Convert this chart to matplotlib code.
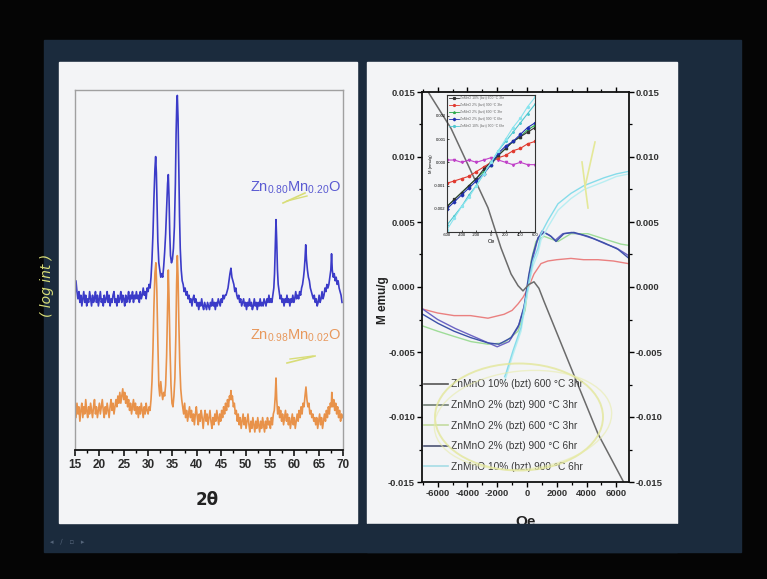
import matplotlib
matplotlib.use('Agg')
import matplotlib.pyplot as plt
from matplotlib.lines import Line2D
from matplotlib.patches import Rectangle, Ellipse
from matplotlib.ticker import MultipleLocator

plt.rcParams['axes.unicode_minus'] = False
plt.rcParams['font.family'] = ['Liberation Sans', 'DejaVu Sans']
plt.rcParams['mathtext.fontset'] = 'custom'
plt.rcParams['mathtext.rm'] = 'Liberation Sans'
plt.rcParams['mathtext.it'] = 'Liberation Sans'

# ---------------- XRD data (left panel) ----------------
xrd_ticks = [15, 20, 25, 30, 35, 40, 45, 50, 55, 60, 65, 70]
label_high = r'Zn$_{0.80}$Mn$_{0.20}$O'
label_low = r'Zn$_{0.98}$Mn$_{0.02}$O'

blue_pts = [(15.0,43),(15.2,47),(15.4,44),(15.6,42),(15.8,44),(16.0,41),(16.2,43),(16.4,40),(16.6,42),(16.8,44),(17.0,41),(17.2,43),(17.4,40),(17.6,42),(17.8,41),(18.0,44),(18.2,42),(18.4,40),(18.6,43),(18.8,41),(19.0,42),(19.2,44),(19.4,41),(19.6,43),(19.8,40),(20.0,42),(20.2,44),(20.4,41),(20.6,42),(20.8,40),(21.0,43),(21.2,41),(21.4,42),(21.6,44),(21.8,41),(22.0,43),(22.2,40),(22.4,42),(22.6,41),(22.8,43),(23.0,44),(23.2,41),(23.4,42),(23.6,40),(23.8,43),(24.0,41),(24.2,42),(24.4,44),(24.6,41),(24.8,43),(25.0,42),(25.2,40),(25.4,43),(25.6,41),(25.8,42),(26.0,44),(26.2,41),(26.4,43),(26.6,42),(26.8,44),(27.0,41),(27.2,43),(27.4,42),(27.6,44),(27.8,42),(28.0,43),(28.2,41),(28.4,44),(28.6,42),(28.8,43),(29.0,45),(29.2,43),(29.4,44),(29.6,42),(29.8,45),(30.0,44),(30.2,46),(30.4,45),(30.6,48),(30.8,53),(31.0,60),(31.2,70),(31.4,78),(31.55,81.5),(31.7,77),(31.85,67),(32.0,58),(32.2,52),(32.4,50),(32.6,48),(32.8,49),(33.0,48),(33.2,51),(33.4,55),(33.6,60),(33.8,67),(34.0,74),(34.15,76.5),(34.3,70),(34.45,60),(34.6,54),(34.8,52),(35.0,53),(35.2,56),(35.4,62),(35.6,74),(35.75,88),(35.9,97),(36.0,98.5),(36.15,92),(36.3,78),(36.45,65),(36.6,56),(36.8,50),(37.0,47),(37.2,46),(37.4,44),(37.6,45),(37.8,43),(38.0,44),(38.2,42),(38.4,43),(38.6,41),(38.8,42),(39.0,40),(39.2,42),(39.4,43),(39.6,41),(39.8,42),(40.0,40),(40.2,41),(40.4,39),(40.6,41),(40.8,40),(41.0,42),(41.2,40),(41.4,39),(41.6,41),(41.8,40),(42.0,39),(42.2,41),(42.4,40),(42.6,39),(42.8,41),(43.0,40),(43.2,42),(43.4,40),(43.6,41),(43.8,39),(44.0,41),(44.2,40),(44.4,42),(44.6,41),(44.8,40),(45.0,42),(45.2,41),(45.4,43),(45.6,42),(45.8,43),(46.0,43),(46.2,44),(46.4,45),(46.6,47),(46.8,49),(47.0,50.5),(47.2,48),(47.4,47),(47.6,46),(47.8,44),(48.0,45),(48.2,43),(48.4,42),(48.6,43),(48.8,41),(49.0,42),(49.2,40),(49.4,41),(49.6,42),(49.8,40),(50.0,41),(50.2,39),(50.4,41),(50.6,40),(50.8,42),(51.0,40),(51.2,41),(51.4,39),(51.6,40),(51.8,42),(52.0,40),(52.2,41),(52.4,39),(52.6,41),(52.8,40),(53.0,42),(53.2,40),(53.4,41),(53.6,40),(53.8,42),(54.0,41),(54.2,40),(54.4,42),(54.6,41),(54.8,43),(55.0,41),(55.2,42),(55.4,41),(55.6,43),(55.8,45),(55.95,49),(56.1,56),(56.25,64),(56.4,58),(56.55,50),(56.7,46),(56.9,44),(57.1,42),(57.3,43),(57.5,41),(57.7,42),(57.9,40),(58.1,42),(58.3,41),(58.5,43),(58.7,41),(58.9,42),(59.1,40),(59.3,42),(59.5,41),(59.7,43),(59.9,41),(60.1,42),(60.3,44),(60.5,42),(60.7,43),(60.9,42),(61.1,44),(61.3,43),(61.5,45),(61.7,46),(61.9,48),(62.05,50),(62.2,53),(62.35,57),(62.5,53),(62.7,50),(62.9,48),(63.1,47),(63.3,45),(63.5,44),(63.7,43),(63.9,42),(64.1,43),(64.3,41),(64.5,42),(64.7,40),(64.9,41),(65.1,43),(65.3,41),(65.5,42),(65.7,44),(65.9,42),(66.1,43),(66.3,45),(66.5,44),(66.7,46),(66.9,45),(67.1,46),(67.3,48),(67.5,50),(67.65,54.5),(67.8,50),(68.0,48),(68.2,49),(68.4,47),(68.6,48),(68.8,46),(69.0,47),(69.2,45),(69.4,44),(69.6,43),(69.8,41)]

orange_pts = [(15.0,12),(15.2,9),(15.4,13),(15.6,10),(15.8,12),(16.0,8),(16.2,11),(16.4,13),(16.6,9),(16.8,12),(17.0,10),(17.2,14),(17.4,11),(17.6,9),(17.8,12),(18.0,10),(18.2,13),(18.4,11),(18.6,9),(18.8,12),(19.0,14),(19.2,10),(19.4,12),(19.6,9),(19.8,11),(20.0,13),(20.2,10),(20.4,12),(20.6,14),(20.8,11),(21.0,9),(21.2,12),(21.4,10),(21.6,13),(21.8,11),(22.0,9),(22.2,12),(22.4,14),(22.6,11),(22.8,13),(23.0,10),(23.2,12),(23.4,14),(23.6,12),(23.8,15),(24.0,13),(24.2,16),(24.4,13),(24.6,15),(24.8,17),(25.0,14),(25.2,16),(25.4,13),(25.6,15),(25.8,12),(26.0,14),(26.2,11),(26.4,13),(26.6,10),(26.8,12),(27.0,14),(27.2,11),(27.4,13),(27.6,10),(27.8,12),(28.0,9),(28.2,12),(28.4,10),(28.6,13),(28.8,11),(29.0,9),(29.2,12),(29.4,10),(29.6,13),(29.8,11),(30.0,10),(30.2,12),(30.4,11),(30.6,14),(30.8,19),(31.0,28),(31.2,40),(31.4,49),(31.6,52),(31.8,44),(32.0,30),(32.2,18),(32.4,15),(32.6,19),(32.8,16),(33.0,14),(33.2,16),(33.4,15),(33.6,18),(33.8,26),(34.0,40),(34.15,50),(34.3,42),(34.5,28),(34.7,18),(34.9,13),(35.1,12),(35.3,15),(35.5,20),(35.7,32),(35.85,46),(36.0,54),(36.15,48),(36.3,36),(36.5,24),(36.7,17),(36.9,14),(37.1,12),(37.3,10),(37.5,13),(37.7,9),(37.9,11),(38.1,8),(38.3,10),(38.5,12),(38.7,9),(38.9,11),(39.1,8),(39.3,10),(39.5,7),(39.7,10),(39.9,12),(40.1,9),(40.3,7),(40.5,10),(40.7,8),(40.9,11),(41.1,9),(41.3,6),(41.5,9),(41.7,11),(41.9,8),(42.1,10),(42.3,7),(42.5,9),(42.7,11),(42.9,8),(43.1,6),(43.3,9),(43.5,7),(43.7,10),(43.9,8),(44.1,11),(44.3,9),(44.5,7),(44.7,10),(44.9,8),(45.1,11),(45.3,9),(45.5,12),(45.7,10),(45.9,13),(46.1,11),(46.3,14),(46.5,12),(46.7,15),(46.85,14),(47.0,16.5),(47.15,14),(47.3,15),(47.5,12),(47.7,13),(47.9,10),(48.1,11),(48.3,8),(48.5,10),(48.7,7),(48.9,9),(49.1,6),(49.3,8),(49.5,10),(49.7,7),(49.9,9),(50.1,6),(50.3,8),(50.5,10),(50.7,7),(50.9,5),(51.1,8),(51.3,6),(51.5,9),(51.7,7),(51.9,5),(52.1,8),(52.3,6),(52.5,9),(52.7,7),(52.9,5),(53.1,8),(53.3,6),(53.5,9),(53.7,7),(53.9,5),(54.1,8),(54.3,6),(54.5,9),(54.7,7),(54.9,8),(55.1,6),(55.3,9),(55.5,7),(55.7,10),(55.9,11),(56.1,15),(56.25,20),(56.4,14),(56.6,10),(56.8,12),(57.0,9),(57.2,11),(57.4,8),(57.6,10),(57.8,7),(58.0,9),(58.2,11),(58.4,8),(58.6,10),(58.8,7),(59.0,9),(59.2,6),(59.4,8),(59.6,10),(59.8,7),(60.0,9),(60.2,6),(60.4,8),(60.6,10),(60.8,8),(61.0,11),(61.2,9),(61.4,12),(61.6,10),(61.8,13),(62.0,12),(62.2,15),(62.4,17.5),(62.6,14),(62.8,12),(63.0,13),(63.2,10),(63.4,11),(63.6,9),(63.8,10),(64.0,8),(64.2,9),(64.4,7),(64.6,9),(64.8,6),(65.0,8),(65.2,10),(65.4,7),(65.6,9),(65.8,6),(66.0,8),(66.2,10),(66.4,8),(66.6,11),(66.8,9),(67.0,12),(67.2,10),(67.4,13),(67.6,12),(67.7,16),(67.9,12),(68.1,14),(68.3,11),(68.5,13),(68.7,10),(68.9,12),(69.1,9),(69.3,11),(69.5,8),(69.7,10),(69.9,9)]

blue_2theta, blue_int = zip(*blue_pts)
orange_2theta, orange_int = zip(*orange_pts)

# ---------------- M-H data (right panel) ----------------
gray_field = [-6800, -6580, -5100, -3760, -2620, -1745, -1070, -600, -270, 130, 470, 800, 1140, 2950, 4770, 6440, 6700]
gray_m = [0.0154, 0.0149, 0.0122, 0.0089, 0.0061, 0.0030, 0.0010, 0.0001, -0.0003, 0.0002, 0.0004, -0.0001, -0.0011, -0.0062, -0.0113, -0.0149, -0.0156]

red_field = [-7000, -6000, -4900, -3800, -2620, -1540, -1000, -600, -270, 70, 470, 940, 1400, 2000, 2950, 3800, 4770, 5800, 6800]
red_m = [-0.0017, -0.0020, -0.0022, -0.0022, -0.0024, -0.0021, -0.0018, -0.0013, -0.0008, -0.0001, 0.0010, 0.0018, 0.0020, 0.0021, 0.0022, 0.0021, 0.0021, 0.0020, 0.0018]

navy_field = [-7000, -5970, -4900, -3760, -2620, -1880, -1070, -540, -200, -70, 130, 400, 740, 1140, 1610, 1950, 2480, 3150, 4090, 5170, 6110, 6850]
navy_m = [-0.0021, -0.0028, -0.0034, -0.0039, -0.0043, -0.0044, -0.0039, -0.0029, -0.0016, -0.0005, 0.0010, 0.0025, 0.0038, 0.0042, 0.0039, 0.0035, 0.0041, 0.0042, 0.0039, 0.0034, 0.0029, 0.0022]

violet_field = [-7000, -6000, -4800, -3600, -2600, -2000, -1200, -600, -200, 100, 400, 700, 1000, 1500, 1900, 2400, 3000, 3700, 4500, 5300, 6000, 6850]
violet_m = [-0.0017, -0.0025, -0.0032, -0.0038, -0.0043, -0.0046, -0.0042, -0.0031, -0.0015, 0.0002, 0.0022, 0.0036, 0.0043, 0.0040, 0.0036, 0.0041, 0.0042, 0.0040, 0.0037, 0.0033, 0.0030, 0.0024]

green_field = [-7000, -6000, -4900, -3760, -2620, -1540, -600, -130, 70, 270, 600, 1140, 2080, 2950, 4090, 5170, 6300, 6850]
green_m = [-0.0030, -0.0034, -0.0038, -0.0042, -0.0044, -0.0043, -0.0034, -0.0018, 0.0000, 0.0020, 0.0035, 0.0039, 0.0035, 0.0041, 0.0041, 0.0037, 0.0033, 0.0032]

cyan_field = [-1500, -1400, -940, -400, -100, 200, 400, 740, 940, 1400, 2080, 2950, 3830, 5170, 6000, 6850]
cyan_m = [-0.0069, -0.0066, -0.0049, -0.0031, -0.0010, 0.0008, 0.0020, 0.0030, 0.0041, 0.0051, 0.0064, 0.0072, 0.0078, 0.0084, 0.0087, 0.0089]
cyan2_m = [-0.0072, -0.0069, -0.0052, -0.0034, -0.0013, 0.0005, 0.0016, 0.0026, 0.0036, 0.0046, 0.0059, 0.0068, 0.0075, 0.0081, 0.0085, 0.0087]

legend_labels = ['ZnMnO 10% (bzt) 600 °C 3hr', 'ZnMnO 2% (bzt) 900 °C 3hr',
                 'ZnMnO 2% (bzt) 600 °C 3hr', 'ZnMnO 2% (bzt) 900 °C 6hr',
                 'ZnMnO 10% (bzt) 900 °C 6hr']
legend_colors = ['#555555', '#6f7c74', '#c3dba0', '#4b5272', '#a6dde6']

mh_ticks_x = [-6000, -4000, -2000, 0, 2000, 4000, 6000]
mh_ticks_y = [-0.015, -0.010, -0.005, 0.000, 0.005, 0.010, 0.015]

# inset data
inset_field = [-600, -500, -400, -300, -200, -100, 0, 100, 200, 300, 400, 500, 600]
inset_black = [-0.0019, -0.0016, -0.0013, -0.0010, -0.0007, -0.0003, 0.0000, 0.0003, 0.0006, 0.0009, 0.0011, 0.0013, 0.0015]
inset_red = [-0.0009, -0.0008, -0.0007, -0.0006, -0.0004, -0.0002, 0.0000, 0.0002, 0.0003, 0.0005, 0.0006, 0.0008, 0.0009]
inset_green = [-0.0019, -0.0016, -0.0013, -0.0010, -0.0007, -0.0004, -0.0001, 0.0003, 0.0006, 0.0009, 0.0011, 0.0014, 0.0016]
inset_blue = [-0.0020, -0.0017, -0.0014, -0.0011, -0.0008, -0.0005, -0.0001, 0.0004, 0.0007, 0.0009, 0.0012, 0.0015, 0.0017]
inset_cyan = [-0.0029, -0.0024, -0.0019, -0.0015, -0.0010, -0.0005, 0.0000, 0.0005, 0.0010, 0.0015, 0.0019, 0.0024, 0.0028]
inset_cyan2 = [-0.0027, -0.0023, -0.0019, -0.0014, -0.0010, -0.0005, 0.0000, 0.0005, 0.0009, 0.0013, 0.0017, 0.0021, 0.0025]
inset_magenta = [0.0001, 0.0001, 0.0000, 0.0001, 0.0000, 0.0001, 0.0002, 0.0001, 0.0000, -0.0001, 0.0000, -0.0001, -0.0001]
inset_xticks = [-600, -400, -200, 0, 200, 400, 600]
inset_yticks = [-0.002, -0.001, 0.000, 0.001, 0.002]

# ---------------- figure ----------------
W, H = 767, 579
fig = plt.figure(figsize=(7.67, 5.79), dpi=100, facecolor='#050505')
NAVY = '#1b2b3d'
PANEL = '#f3f4f6'


def add_ax_px(x0, y0, x1, y1, **kw):
    return fig.add_axes([x0 / W, 1 - y1 / H, (x1 - x0) / W, (y1 - y0) / H], **kw)


bg = fig.add_axes([0, 0, 1, 1], zorder=-10)
bg.set_xlim(0, W); bg.set_ylim(H, 0); bg.axis('off')
bg.add_patch(Rectangle((44, 40), 697, 512, color=NAVY))
bg.add_patch(Rectangle((59, 62), 298, 461, color=PANEL))
bg.add_patch(Rectangle((367, 62), 310, 461, color=PANEL))
bg.text(50, 541, '\u25c2   \u2215   \u25ab   \u25b8', color='#55657a', fontsize=5,
        va='center', family=['DejaVu Sans'])

# ---- left panel ----
ax1 = add_ax_px(75, 90, 343, 450)
ax1.set_facecolor('none')
ax1.plot(orange_2theta, orange_int, color='#e8924a', lw=1.2)
ax1.plot(blue_2theta, blue_int, color='#3b3bc8', lw=1.2)
ax1.set_xlim(15, 70)
ax1.set_ylim(0, 100)
ax1.set_yticks([])
ax1.set_xticks(xrd_ticks)
ax1.set_xticklabels([str(v) for v in xrd_ticks], fontweight='bold', color='#2a2a2a')
ax1.xaxis.set_minor_locator(MultipleLocator(2.5))
ax1.tick_params(axis='x', which='major', direction='out', length=4, width=1.1, labelsize=8.5, pad=2.5)
ax1.tick_params(axis='x', which='minor', direction='out', length=2.5, width=1)
for s in ['top', 'left', 'right']:
    ax1.spines[s].set_color('#a0a0a0')
    ax1.spines[s].set_linewidth(1.0)
ax1.spines['bottom'].set_color('#111111')
ax1.spines['bottom'].set_linewidth(1.3)
ax1.text(50.9, 71.7, label_high, color='#5a5ad2', fontsize=10.5, va='baseline')
ax1.text(50.9, 30.6, label_low, color='#e8985c', fontsize=10.5, va='baseline')

# ---- right panel ----
ax2 = add_ax_px(422, 92, 629, 482)
ax2.set_facecolor('none')
ax2.plot(red_field, red_m, color='#ea8080', lw=1.0)
ax2.plot(green_field, green_m, color='#9edc98', lw=1.0)
ax2.plot(violet_field, violet_m, color='#6c64c4', lw=1.0)
ax2.plot(navy_field, navy_m, color='#3c50a8', lw=1.0)
ax2.plot(cyan_field, cyan2_m, color='#b8eef2', lw=1.0)
ax2.plot(cyan_field, cyan_m, color='#86dcea', lw=1.0)
ax2.plot(gray_field, gray_m, color='#6b6b6b', lw=1.1)
ax2.set_xlim(-7050, 6850)
ax2.set_ylim(-0.015, 0.015)
ax2.set_xticks(mh_ticks_x)
ax2.set_xticklabels([str(v) for v in mh_ticks_x], fontweight='bold', color='#333333')
ax2.set_yticks(mh_ticks_y)
ax2.set_yticklabels(['%.3f' % v for v in mh_ticks_y], fontweight='bold', color='#333333')
ax2.xaxis.set_minor_locator(MultipleLocator(1000))
ax2.yaxis.set_minor_locator(MultipleLocator(0.0025))
ax2.tick_params(which='both', top=True, right=True, labelright=True, direction='out')
ax2.tick_params(which='major', length=3.5, width=1, labelsize=6.8, pad=1.5)
ax2.tick_params(which='minor', length=2, width=0.9)
for s in ax2.spines.values():
    s.set_color('#111111'); s.set_linewidth(1.3)

handles = [Line2D([], [], color=c, lw=1.2) for c in legend_colors]
leg = ax2.legend(handles, legend_labels, loc='upper left', bbox_to_anchor=(0.01, 0.263),
                 frameon=False, fontsize=7.3, handlelength=2.4, handletextpad=0.3,
                 labelspacing=1.05, borderpad=0, borderaxespad=0)
for t in leg.get_texts():
    t.set_color('#3a3a3a')

# ---- inset ----
ax3 = add_ax_px(447, 95, 535, 232)
ax3.set_facecolor('none')
ax3.plot(inset_field, inset_magenta, color='#c040c8', lw=0.8, marker='v', ms=1.6)
ax3.plot(inset_field, inset_red, color='#e03a30', lw=0.8, marker='o', ms=1.6)
ax3.plot(inset_field, inset_green, color='#2aa84a', lw=0.8, marker='^', ms=1.6)
ax3.plot(inset_field, inset_black, color='#333333', lw=0.8, marker='s', ms=1.4)
ax3.plot(inset_field, inset_blue, color='#2030b0', lw=0.8, marker='D', ms=1.4)
ax3.plot(inset_field, inset_cyan2, color='#50c8d0', lw=0.8, marker='x', ms=1.4)
ax3.plot(inset_field, inset_cyan, color='#88e4ee', lw=0.8, marker='o', ms=1.4)
ax3.set_xlim(-600, 600)
ax3.set_ylim(-0.0030, 0.0029)
ax3.set_xticks(inset_xticks)
ax3.set_xticklabels([str(v) for v in inset_xticks])
ax3.set_yticks(inset_yticks)
ax3.set_yticklabels(['%.3f' % v for v in inset_yticks])
ax3.tick_params(which='both', length=1.5, width=0.5, labelsize=3, pad=1, direction='in')
ax3.set_xlabel('Oe', fontsize=4, labelpad=1)
ax3.set_ylabel('M (emu/g)', fontsize=3, labelpad=1)
for s in ax3.spines.values():
    s.set_color('#333333'); s.set_linewidth(0.8)
ih = [Line2D([], [], color=c, lw=0.6, marker=m, ms=1.3) for c, m in
      zip(['#333333', '#e03a30', '#2aa84a', '#2030b0', '#50c8d0'], ['s', 'o', '^', 'D', 'o'])]
ileg = ax3.legend(ih, legend_labels, loc='upper left', bbox_to_anchor=(0.02, 0.995), frameon=False,
                  fontsize=2.4, handlelength=3, handletextpad=0.5, labelspacing=0.9,
                  borderpad=0, borderaxespad=0)
for t in ileg.get_texts():
    t.set_color('#666666')

# ---- overlay: labels & handwritten marks ----
ov = fig.add_axes([0, 0, 1, 1], zorder=10)
ov.set_xlim(0, W); ov.set_ylim(H, 0); ov.axis('off'); ov.patch.set_alpha(0)
ov.text(207, 500, '2\u03b8', fontsize=12, fontweight='bold', color='#222222',
        ha='center', va='center', family=['DejaVu Sans'])
ov.text(383, 300, 'M emu/g', fontsize=8.5, fontweight='bold', color='#222222',
        ha='center', va='center', rotation=90)
ov.text(526, 515, 'Oe', fontsize=11, fontweight='bold', color='#222222',
        ha='center', va='top', zorder=3)
ov.add_patch(Rectangle((367, 523.5), 310, 28.5, color=NAVY, zorder=5))

YEL = '#d8dd78'
ov.text(47, 285, '( log int )', fontsize=10, style='italic', color=YEL,
        rotation=90, ha='center', va='center', family=['DejaVu Sans'])
ov.plot([283, 305], [203, 193], color=YEL, lw=1.2)
ov.plot([287, 307], [201, 196], color=YEL, lw=1.0)
ov.plot([287, 315], [363, 356], color=YEL, lw=1.2)
ov.plot([290, 313], [359, 356], color=YEL, lw=1.0)
ov.plot([595, 585], [142, 187], color='#e4e898', lw=1.2)
ov.plot([582, 588], [162, 208], color='#e4e898', lw=1.2)
ov.add_patch(Ellipse((519, 417), 168, 107, fill=False, ec='#e3e79a', lw=1.4, alpha=0.8))
ov.add_patch(Ellipse((523, 420), 178, 98, angle=-6, fill=False, ec='#e8ecaa', lw=1.0, alpha=0.6))

fig.savefig('out.png', dpi=100, facecolor=fig.get_facecolor())
